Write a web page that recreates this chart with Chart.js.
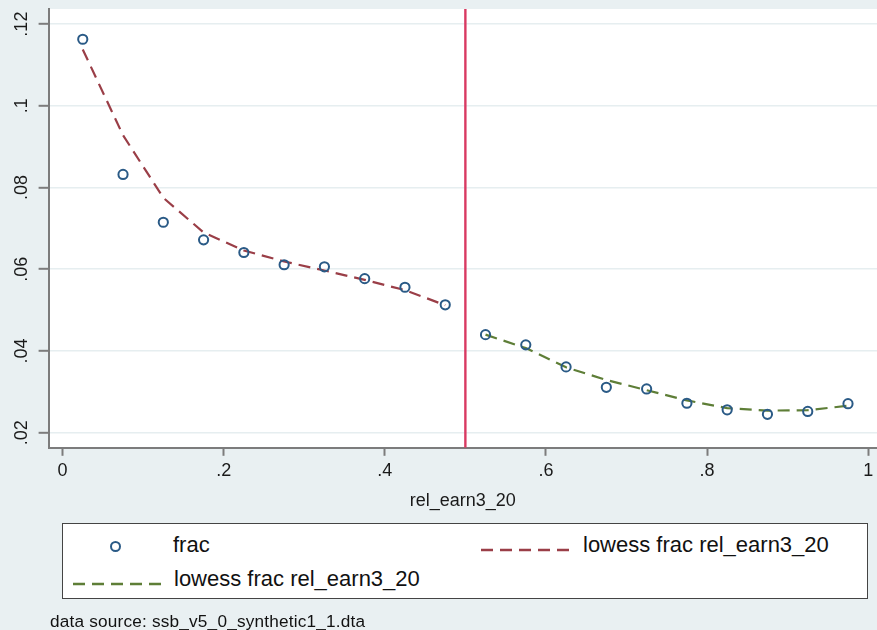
<!DOCTYPE html>
<html>
<head>
<meta charset="utf-8">
<script src="https://cdn.jsdelivr.net/npm/chart.js@4.4.1/dist/chart.umd.min.js"></script>
<style>
  html, body { margin: 0; padding: 0; background: #E9F0F2; }
  #wrap { position: relative; width: 877px; height: 630px; overflow: hidden; font-family: "Liberation Sans", Arial, sans-serif; }
  #c { position: absolute; left: 0; top: 0; }
  #legend { position: absolute; left: 62px; top: 523px; width: 804px; height: 74px; background: #fff; border: 1.5px solid #444; }
  .item { position: absolute; font-size: 22px; color: #111; line-height: 26px; white-space: nowrap; }
  .sym { position: absolute; }
  #note { position: absolute; left: 50px; top: 611px; font-size: 17.2px; color: #111; white-space: nowrap; letter-spacing: 0.2px; }
</style>
</head>
<body>
<div id="wrap">
  <canvas id="c" width="877" height="630"></canvas>
  <div id="legend"></div>
  <div id="note"></div>
</div>
<script>
// ---- data ----
const X_BINS = [0.025, 0.075, 0.125, 0.175, 0.225, 0.275, 0.325, 0.375, 0.425, 0.475,
                0.525, 0.575, 0.625, 0.675, 0.725, 0.775, 0.825, 0.875, 0.925, 0.975];
const FRAC = [0.1163, 0.0832, 0.0715, 0.0672, 0.0641, 0.0611, 0.0606, 0.0577, 0.0556, 0.0513,
              0.0440, 0.0415, 0.0361, 0.0311, 0.0307, 0.0272, 0.0256, 0.0245, 0.0252, 0.0271];
const LOWESS_LEFT_X = [0.025, 0.075, 0.125, 0.175, 0.225, 0.275, 0.325, 0.375, 0.425, 0.475];
const LOWESS_LEFT = [0.1138, 0.0928, 0.0775, 0.0690, 0.0646, 0.0619, 0.0597, 0.0574, 0.0549, 0.0512];
const LOWESS_RIGHT_X = [0.525, 0.575, 0.625, 0.675, 0.725, 0.775, 0.825, 0.875, 0.925, 0.975];
const LOWESS_RIGHT = [0.0440, 0.0407, 0.0360, 0.0329, 0.0304, 0.0279, 0.0260, 0.0254, 0.0255, 0.0266];
const CUTOFF = 0.5;
const X_TICKS = [0, 0.2, 0.4, 0.6, 0.8, 1];
const Y_TICKS = [0.02, 0.04, 0.06, 0.08, 0.1, 0.12];
const X_MIN = -0.0174, X_MAX = 1.011;
const Y_MIN = 0.0163, Y_MAX = 0.1237;
const X_TITLE = 'rel_earn3_20';
const LEGEND_LABELS = ['frac', 'lowess frac rel_earn3_20', 'lowess frac rel_earn3_20'];
const NOTE = 'data source: ssb_v5_0_synthetic1_1.dta';

// ---- styles ----
const C_MARK = '#2A5A86';
const C_RED = '#9A3E47';
const C_GREEN = '#5E7E37';
const C_VLINE = '#D93A62';
const C_AXIS = '#7C7C7C';
const C_GRID = '#E6EEF0';
const DASH = [12, 7];

function fmt(v) {
  if (Math.abs(v) < 1e-9) return '0';
  if (Math.abs(v - 1) < 1e-9) return '1';
  return String(+v.toFixed(2)).replace(/^0\./, '.');
}

const plotBg = {
  id: 'plotBg',
  beforeDraw(chart) {
    const { ctx, chartArea: a } = chart;
    ctx.save();
    ctx.fillStyle = '#ffffff';
    ctx.fillRect(a.left, a.top, a.right - a.left, a.bottom - a.top);
    ctx.restore();
  }
};

const tickFont = { family: '"Liberation Sans", Arial, sans-serif', size: 18 };
function noEdgePadding(s) { s.paddingTop = 0; s.paddingBottom = 0; s.paddingLeft = 0; s.paddingRight = 0; }

new Chart(document.getElementById('c'), {
  type: 'scatter',
  data: {
    datasets: [
      {
        label: LEGEND_LABELS[0],
        data: X_BINS.map((x, i) => ({ x, y: FRAC[i] })),
        pointStyle: 'circle',
        pointRadius: 4.6,
        pointBorderWidth: 2,
        pointBackgroundColor: 'rgba(255,255,255,0)',
        pointBorderColor: C_MARK,
        showLine: false,
        order: 0
      },
      {
        label: LEGEND_LABELS[1],
        data: LOWESS_LEFT_X.map((x, i) => ({ x, y: LOWESS_LEFT[i] })),
        showLine: true,
        borderColor: C_RED,
        borderWidth: 2.2,
        borderDash: DASH,
        pointRadius: 0,
        tension: 0,
        order: 1
      },
      {
        label: LEGEND_LABELS[2],
        data: LOWESS_RIGHT_X.map((x, i) => ({ x, y: LOWESS_RIGHT[i] })),
        showLine: true,
        borderColor: C_GREEN,
        borderWidth: 2.2,
        borderDash: DASH,
        pointRadius: 0,
        tension: 0,
        order: 1
      },
      {
        label: 'cutoff',
        data: [{ x: CUTOFF, y: Y_MIN }, { x: CUTOFF, y: Y_MAX }],
        showLine: true,
        borderColor: C_VLINE,
        borderWidth: 2.4,
        pointRadius: 0,
        order: 2
      }
    ]
  },
  options: {
    responsive: false,
    animation: false,
    devicePixelRatio: 1,
    layout: { autoPadding: false, padding: { left: 9, top: 9, right: 0, bottom: 118 } },
    plugins: {
      legend: { display: false },
      tooltip: { enabled: false }
    },
    scales: {
      x: {
        type: 'linear',
        min: X_MIN, max: X_MAX,
        afterBuildTicks(s) { s.ticks = X_TICKS.map(v => ({ value: v })); },
        afterFit: noEdgePadding,
        grid: { drawOnChartArea: false, drawTicks: true, tickLength: 8, tickColor: C_AXIS, tickWidth: 2 },
        border: { display: true, color: C_AXIS, width: 2 },
        ticks: { font: tickFont, color: '#1a1a1a', padding: 4, maxRotation: 0, minRotation: 0, callback: v => fmt(v) },
        title: { display: true, text: X_TITLE, font: tickFont, color: '#1a1a1a', padding: { top: 5, bottom: 0 } }
      },
      y: {
        type: 'linear',
        min: Y_MIN, max: Y_MAX,
        afterBuildTicks(s) { s.ticks = Y_TICKS.map(v => ({ value: v })); },
        afterFit: noEdgePadding,
        grid: { drawOnChartArea: true, color: C_GRID, lineWidth: 1.6, drawTicks: true, tickLength: 10, tickColor: C_AXIS, tickWidth: 2 },
        border: { display: true, color: C_AXIS, width: 2 },
        ticks: { font: tickFont, color: '#1a1a1a', padding: 4, minRotation: 90, maxRotation: 90, crossAlign: 'center', callback: v => fmt(v) }
      }
    }
  },
  plugins: [plotBg]
});

// ---- legend (HTML) ----
function dashSvg(color) {
  return '<svg width="88" height="10" xmlns="http://www.w3.org/2000/svg"><line x1="0" y1="5" x2="88" y2="5" stroke="' + color +
    '" stroke-width="2.4" stroke-dasharray="' + DASH.join(' ') + '"/></svg>';
}
const lg = document.getElementById('legend');
lg.innerHTML =
  '<div class="sym" style="left:47px;top:17px;width:7px;height:7px;border:2px solid ' + C_MARK + ';border-radius:50%"></div>' +
  '<div class="item" style="left:110px;top:8px">' + LEGEND_LABELS[0] + '</div>' +
  '<div class="sym" style="left:418px;top:17px">' + dashSvg(C_RED) + '</div>' +
  '<div class="item" style="left:520px;top:8px">' + LEGEND_LABELS[1] + '</div>' +
  '<div class="sym" style="left:10px;top:51px">' + dashSvg(C_GREEN) + '</div>' +
  '<div class="item" style="left:111px;top:42px">' + LEGEND_LABELS[2] + '</div>';
document.getElementById('note').textContent = NOTE;
</script>
</body>
</html>
